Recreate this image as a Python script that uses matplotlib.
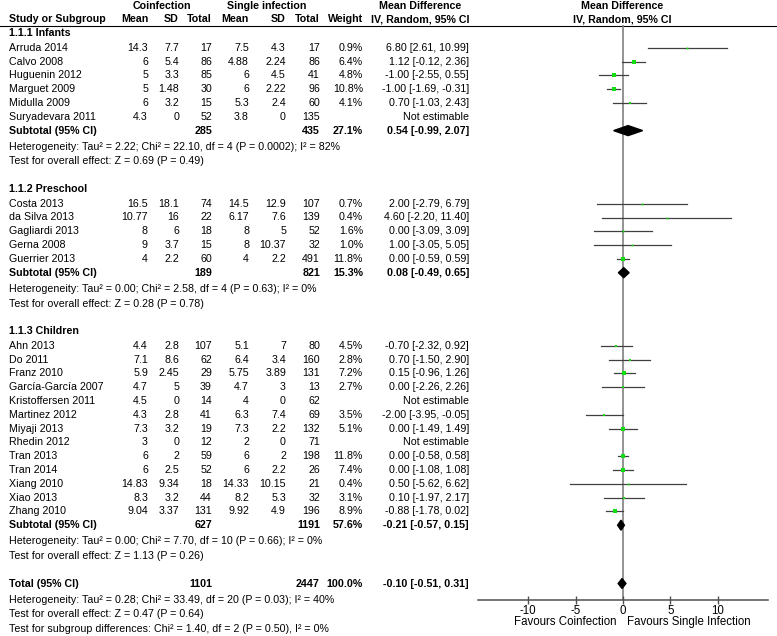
import numpy as np
import matplotlib.pyplot as plt

plt.rcParams['font.family'] = ['Liberation Sans', 'DejaVu Sans']
plt.rcParams['font.size'] = 7.7
plt.rcParams['axes.unicode_minus'] = False

nan = np.nan

# study level data
groups = ['1.1.1 Infants', '1.1.2 Preschool', '1.1.3 Children']
group_of = [0] * 6 + [1] * 5 + [2] * 13
studies = ['Arruda 2014', 'Calvo 2008', 'Huguenin 2012', 'Marguet 2009', 'Midulla 2009',
           'Suryadevara 2011',
           'Costa 2013', 'da Silva 2013', 'Gagliardi 2013', 'Gerna 2008', 'Guerrier 2013',
           'Ahn 2013', 'Do 2011', 'Franz 2010', 'García-García 2007', 'Kristoffersen 2011',
           'Martinez 2012', 'Miyaji 2013', 'Rhedin 2012', 'Tran 2013', 'Tran 2014',
           'Xiang 2010', 'Xiao 2013', 'Zhang 2010']
c_mean = [14.3, 6, 5, 5, 6, 4.3, 16.5, 10.77, 8, 9, 4,
          4.4, 7.1, 5.9, 4.7, 4.5, 4.3, 7.3, 3, 6, 6, 14.83, 8.3, 9.04]
c_sd = [7.7, 5.4, 3.3, 1.48, 3.2, 0, 18.1, 16, 6, 3.7, 2.2,
        2.8, 8.6, 2.45, 5, 0, 2.8, 3.2, 0, 2, 2.5, 9.34, 3.2, 3.37]
c_n = [17, 86, 85, 30, 15, 52, 74, 22, 18, 15, 60,
       107, 62, 29, 39, 14, 41, 19, 12, 59, 52, 18, 44, 131]
s_mean = [7.5, 4.88, 6, 6, 5.3, 3.8, 14.5, 6.17, 8, 8, 4,
          5.1, 6.4, 5.75, 4.7, 4, 6.3, 7.3, 2, 6, 6, 14.33, 8.2, 9.92]
s_sd = [4.3, 2.24, 4.5, 2.22, 2.4, 0, 12.9, 7.6, 5, 10.37, 2.2,
        7, 3.4, 3.89, 3, 0, 7.4, 2.2, 0, 2, 2.2, 10.15, 5.3, 4.9]
s_n = [17, 86, 41, 96, 60, 135, 107, 139, 52, 32, 491,
       80, 160, 131, 13, 62, 69, 132, 71, 198, 26, 21, 32, 196]
weight = [0.9, 6.4, 4.8, 10.8, 4.1, nan, 0.7, 0.4, 1.6, 1.0, 11.8,
          4.5, 2.8, 7.2, 2.7, nan, 3.5, 5.1, nan, 11.8, 7.4, 0.4, 3.1, 8.9]
md = [6.80, 1.12, -1.00, -1.00, 0.70, nan, 2.00, 4.60, 0.00, 1.00, 0.00,
      -0.70, 0.70, 0.15, 0.00, nan, -2.00, 0.00, nan, 0.00, 0.00, 0.50, 0.10, -0.88]
lo = [2.61, -0.12, -2.55, -1.69, -1.03, nan, -2.79, -2.20, -3.09, -3.05, -0.59,
      -2.32, -1.50, -0.96, -2.26, nan, -3.95, -1.49, nan, -0.58, -1.08, -5.62, -1.97, -1.78]
hi = [10.99, 2.36, 0.55, -0.31, 2.43, nan, 6.79, 11.40, 3.09, 5.05, 0.59,
      0.92, 2.90, 1.26, 2.26, nan, -0.05, 1.49, nan, 0.58, 1.08, 6.62, 2.17, 0.02]

# subgroup summaries
sub_c_n = [285, 189, 627]
sub_s_n = [435, 821, 1191]
sub_weight = [27.1, 15.3, 57.6]
sub_md = [0.54, 0.08, -0.21]
sub_lo = [-0.99, -0.49, -0.57]
sub_hi = [2.07, 0.65, 0.15]
sub_het = ['Heterogeneity: Tau² = 2.22; Chi² = 22.10, df = 4 (P = 0.0002); I² = 82%',
           'Heterogeneity: Tau² = 0.00; Chi² = 2.58, df = 4 (P = 0.63); I² = 0%',
           'Heterogeneity: Tau² = 0.00; Chi² = 7.70, df = 10 (P = 0.66); I² = 0%']
sub_test = ['Test for overall effect: Z = 0.69 (P = 0.49)',
            'Test for overall effect: Z = 0.28 (P = 0.78)',
            'Test for overall effect: Z = 1.13 (P = 0.26)']

# overall
tot_c_n, tot_s_n, tot_weight = 1101, 2447, 100.0
tot_md, tot_lo, tot_hi = -0.10, -0.51, 0.31
tot_lines = ['Heterogeneity: Tau² = 0.28; Chi² = 33.49, df = 20 (P = 0.03); I² = 40%',
             'Test for overall effect: Z = 0.47 (P = 0.64)',
             'Test for subgroup differences: Chi² = 1.40, df = 2 (P = 0.50), I² = 0%']

W, H = 777, 636
fig = plt.figure(figsize=(W / 100, H / 100), dpi=100)
fig.patch.set_facecolor('white')

# table axes in pixel units (y downwards)
tab = fig.add_axes([0, 0, 1, 1])
tab.set_xlim(0, W)
tab.set_ylim(H, 0)
tab.axis('off')

# forest axes, same pixel rows, mean difference on x
ax_top, ax_bot = 25, 600
ax = fig.add_axes([478 / W, 1 - ax_bot / H, 290 / W, (ax_bot - ax_top) / H])
ax.set_xlim(-15.3, 15.3)
ax.set_ylim(ax_bot, ax_top)
ax.patch.set_visible(False)
for s in ['left', 'right', 'top']:
    ax.spines[s].set_visible(False)
ax.spines['bottom'].set_color('#505050')
ax.spines['bottom'].set_linewidth(1.1)
ax.set_yticks([])
ax.set_xticks([-10, -5, 0, 5, 10])
ax.tick_params(axis='x', direction='inout', length=6, width=1, color='#505050',
               pad=0.5, labelsize=8.3)
ax.axvline(0, color='#808080', lw=1.2, zorder=1)

# column anchors
x_name = 9
x_cols = [148, 179, 212, 249, 286, 320]
x_w = 363
x_md = 469
x_hdr = 420
x_plot_hdr = 622.5

# headers
y_h1, y_h2 = 6, 19
tab.text(162, y_h1, 'Coinfection', ha='center', va='center', weight='bold')
tab.text(267, y_h1, 'Single infection', ha='center', va='center', weight='bold')
tab.text(x_hdr, y_h1, 'Mean Difference', ha='center', va='center', weight='bold')
tab.text(x_plot_hdr, y_h1, 'Mean Difference', ha='center', va='center', weight='bold')
tab.text(x_name, y_h2, 'Study or Subgroup', ha='left', va='center', weight='bold')
for x, lab in zip(x_cols, ['Mean', 'SD', 'Total', 'Mean', 'SD', 'Total']):
    tab.text(x, y_h2, lab, ha='right', va='center', weight='bold')
tab.text(x_w, y_h2, 'Weight', ha='right', va='center', weight='bold')
tab.text(x_hdr, y_h2, 'IV, Random, 95% CI', ha='center', va='center', weight='bold')
tab.text(x_plot_hdr, y_h2, 'IV, Random, 95% CI', ha='center', va='center', weight='bold')
tab.plot([0, W], [ax_top + 0.5, ax_top + 0.5], color='black', lw=0.8)


def ci_text(m, a, b):
    return f'{m:.2f} [{a:.2f}, {b:.2f}]'


def diamond(y, m, a, b):
    ax.fill([a, m, b, m], [y, y - 5, y, y + 5], color='black', zorder=3)


step = 13.8
y = 33
for g, gname in enumerate(groups):
    tab.text(x_name, y, gname, ha='left', va='center', weight='bold')
    y += 14.8
    idx = [i for i, k in enumerate(group_of) if k == g]
    for i in idx:
        vals = [c_mean[i], c_sd[i], c_n[i], s_mean[i], s_sd[i], s_n[i]]
        tab.text(x_name, y, studies[i], ha='left', va='center')
        for x, v in zip(x_cols, vals):
            tab.text(x, y, f'{v:g}', ha='right', va='center')
        if np.isnan(md[i]):
            tab.text(x_md, y, 'Not estimable', ha='right', va='center')
        else:
            tab.text(x_w, y, f'{weight[i]:.1f}%', ha='right', va='center')
            tab.text(x_md, y, ci_text(md[i], lo[i], hi[i]), ha='right', va='center')
            ax.plot([lo[i], hi[i]], [y, y], color='#404040', lw=0.9, zorder=2)
            ax.plot(md[i], y, marker='s', color='#11dd11', markeredgewidth=0,
                    markersize=max(1.3, 1.0 * np.sqrt(weight[i])), zorder=3)
        y += step
    tab.text(x_name, y, 'Subtotal (95% CI)', ha='left', va='center', weight='bold')
    tab.text(x_cols[2], y, str(sub_c_n[g]), ha='right', va='center', weight='bold')
    tab.text(x_cols[5], y, str(sub_s_n[g]), ha='right', va='center', weight='bold')
    tab.text(x_w, y, f'{sub_weight[g]:.1f}%', ha='right', va='center', weight='bold')
    tab.text(x_md, y, ci_text(sub_md[g], sub_lo[g], sub_hi[g]), ha='right', va='center',
             weight='bold')
    diamond(y, sub_md[g], sub_lo[g], sub_hi[g])
    y += 16
    tab.text(x_name, y, sub_het[g], ha='left', va='center')
    y += 14.8
    tab.text(x_name, y, sub_test[g], ha='left', va='center')
    y += 27.5

tab.text(x_name, y, 'Total (95% CI)', ha='left', va='center', weight='bold')
tab.text(x_cols[2], y, str(tot_c_n), ha='right', va='center', weight='bold')
tab.text(x_cols[5], y, str(tot_s_n), ha='right', va='center', weight='bold')
tab.text(x_w, y, f'{tot_weight:.1f}%', ha='right', va='center', weight='bold')
tab.text(x_md, y, ci_text(tot_md, tot_lo, tot_hi), ha='right', va='center', weight='bold')
diamond(y, tot_md, tot_lo, tot_hi)
y += 16
for line in tot_lines:
    tab.text(x_name, y, line, ha='left', va='center')
    y += 14.6

tab.text(617, 622, 'Favours Coinfection', ha='right', va='center', fontsize=8.3)
tab.text(627, 622, 'Favours Single Infection', ha='left', va='center', fontsize=8.3)

fig.savefig('out.png', dpi=100)
